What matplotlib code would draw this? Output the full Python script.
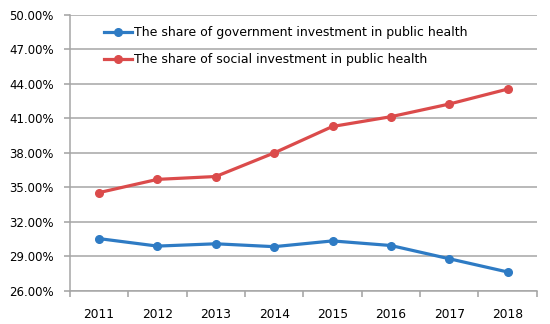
import matplotlib
matplotlib.use("Agg")
import matplotlib.pyplot as plt
from matplotlib.ticker import FuncFormatter, FixedLocator, NullFormatter

years = ["2011", "2012", "2013", "2014", "2015", "2016", "2017", "2018"]
gov_share = [30.55, 29.9, 30.1, 29.85, 30.35, 29.95, 28.8, 27.65]
social_share = [34.55, 35.7, 35.95, 38.0, 40.3, 41.15, 42.25, 43.55]
y_ticks = [26, 29, 32, 35, 38, 41, 44, 47, 50]
labels = ["The share of government investment in public health",
          "The share of social investment in public health"]

plt.rcParams['font.family'] = ['DejaVu Sans']

fig = plt.figure(figsize=(5.5, 3.24), dpi=100)
ax = fig.add_axes([0.127, 0.102, 0.849, 0.852])

x = list(range(len(years)))
ax.plot(x, gov_share, color="#2E7BC4", lw=2.3, marker="o", ms=5.5, label=labels[0])
ax.plot(x, social_share, color="#DB4B4B", lw=2.3, marker="o", ms=5.5, label=labels[1])

ax.set_xlim(-0.5, len(years) - 0.5)
ax.set_ylim(26, 50)
ax.set_yticks(y_ticks)
ax.yaxis.set_major_formatter(FuncFormatter(lambda v, p: f"{v:.2f}%"))
ax.set_xticks(x)
ax.set_xticklabels(years)
ax.xaxis.set_minor_locator(FixedLocator([i - 0.5 for i in range(len(years) + 1)]))
ax.xaxis.set_minor_formatter(NullFormatter())
ax.tick_params(axis="x", which="major", length=0, pad=12, labelsize=8.8)
ax.tick_params(axis="x", which="minor", length=4, color="#A0A0A0", width=1.1)
ax.tick_params(axis="y", length=4, color="#A0A0A0", width=1.1, labelsize=8.5, pad=7.5)

ax.grid(axis="y", color="#A6A6A6", lw=1.1)
ax.set_axisbelow(True)
for s in ["top", "right"]:
    ax.spines[s].set_visible(False)
for s in ["left", "bottom"]:
    ax.spines[s].set_color("#A6A6A6")
    ax.spines[s].set_linewidth(1.1)

leg = ax.legend(loc="upper left", bbox_to_anchor=(0.05, 1.0), frameon=False,
                fontsize=9, handlelength=2.2, handletextpad=0.15, labelspacing=1.1)

fig.savefig("out.png", dpi=100)
